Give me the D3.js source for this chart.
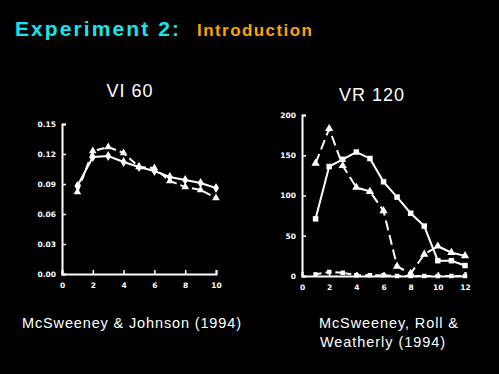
<!DOCTYPE html>
<html>
<head>
<meta charset="utf-8">
<script src="https://cdn.jsdelivr.net/npm/d3@7"></script>
<style>
  body { margin: 0; background: #000; }
  svg { display: block; }
</style>
</head>
<body>
<svg id="slide"></svg>
<script>
// VI 60 panel (left)
let viX = [1, 2, 3, 4, 5, 6, 7, 8, 9, 10];
let viSolid = [0.088, 0.117, 0.118, 0.112, 0.107, 0.103, 0.097, 0.094, 0.091, 0.086];
let viDashed = [0.082, 0.123, 0.127, 0.121, 0.107, 0.106, 0.093, 0.087, 0.084, 0.076];
let viYTicks = [0, 0.03, 0.06, 0.09, 0.12, 0.15];
let viXTicks = [0, 2, 4, 6, 8, 10];

// VR 120 panel (right)
let vrX = [1, 2, 3, 4, 5, 6, 7, 8, 9, 10, 11, 12];
let vrSolid = [71, 136, 145, 154, 146, 117, 98, 78, 62, 19, 19, 13];
let vrDashed = [140, 183, 137, 110, 105, 81, 12, 3, 27, 37, 29, 25];
let vrLow = [2, 5, 4, 1, 1, 1, 0, 0, 0, 0, 0, 0];
let vrYTicks = [0, 50, 100, 150, 200];
let vrXTicks = [0, 2, 4, 6, 8, 10, 12];

let width = 499;
let height = 374;

let svg = d3.select("#slide")
    .attr("width", width)
    .attr("height", height);

svg.append("rect")
    .attr("width", width)
    .attr("height", height)
    .attr("fill", "#000");

// heading
svg.append("text")
    .attr("x", 15).attr("y", 36)
    .attr("font-family", "Liberation Sans, Arial, sans-serif")
    .attr("font-size", 21)
    .attr("font-weight", "bold")
    .attr("fill", "#14e6ee")
    .attr("textLength", 164)
    .attr("lengthAdjust", "spacing")
    .text("Experiment 2:");

svg.append("text")
    .attr("x", 197).attr("y", 36)
    .attr("font-family", "Liberation Sans, Arial, sans-serif")
    .attr("font-size", 17)
    .attr("font-weight", "bold")
    .attr("fill", "#ffa500")
    .attr("textLength", 115)
    .attr("lengthAdjust", "spacing")
    .text("Introduction");

// draws one panel
function panel(opt) {
    let x = d3.scaleLinear().domain(opt.xDomain).range(opt.xRange);
    let y = d3.scaleLinear().domain(opt.yDomain).range(opt.yRange);
    let g = svg.append("g");

    // panel title
    g.append("text")
        .attr("x", opt.titleX).attr("y", opt.titleY)
        .attr("text-anchor", "middle")
        .attr("font-family", "Liberation Sans, Arial, sans-serif")
        .attr("font-size", 18)
        .attr("fill", "#fff")
        .attr("letter-spacing", 1)
        .text(opt.title);

    // axes (ticks pointing inward)
    let yAxis = g.append("g")
        .attr("transform", "translate(" + opt.xRange[0] + ",0)")
        .call(d3.axisRight(y).tickValues(opt.yTicks).tickSize(4).tickFormat(opt.yFormat));
    yAxis.selectAll("text")
        .attr("x", -6)
        .attr("text-anchor", "end");

    let xAxis = g.append("g")
        .attr("transform", "translate(0," + opt.yRange[0] + ")")
        .call(d3.axisTop(x).tickValues(opt.xTicks).tickSize(4).tickFormat(d3.format("d")));
    xAxis.selectAll("text")
        .attr("y", 11)
        .attr("dy", "0.35em");

    g.selectAll(".domain")
        .attr("stroke", "#fff")
        .attr("stroke-width", 2);
    g.selectAll(".tick line")
        .attr("stroke", "#fff")
        .attr("stroke-width", 1.5);
    g.selectAll(".tick text")
        .attr("fill", "#fff")
        .attr("font-family", "DejaVu Sans, sans-serif")
        .attr("font-weight", "bold")
        .attr("font-size", 7.5);

    let line = d3.line()
        .x(d => x(d[0]))
        .y(d => y(d[1]));

    opt.series.forEach(s => {
        let pts = opt.xs.map((v, i) => [v, s.values[i]]);
        g.append("path")
            .datum(pts)
            .attr("fill", "none")
            .attr("stroke", "#fff")
            .attr("stroke-width", 2)
            .attr("stroke-dasharray", s.dash)
            .attr("d", line);

        g.selectAll(null)
            .data(pts)
            .enter().append("path")
                .attr("transform", d => "translate(" + x(d[0]) + "," + y(d[1]) + ")")
                .attr("d", d3.symbol().type(s.symbol).size(s.size))
                .attr("fill", "#fff");
    });
}

panel({
    title: "VI 60", titleX: 130, titleY: 97,
    xDomain: [0, 10], xRange: [62, 216],
    yDomain: [0, 0.15], yRange: [274, 124],
    xTicks: viXTicks, yTicks: viYTicks,
    yFormat: d3.format(".2f"),
    xs: viX,
    series: [
        { values: viSolid, dash: null, symbol: d3.symbolDiamond, size: 30 },
        { values: viDashed, dash: "8,4", symbol: d3.symbolTriangle, size: 25 }
    ]
});

panel({
    title: "VR 120", titleX: 372, titleY: 101,
    xDomain: [0, 12], xRange: [302, 465],
    yDomain: [0, 200], yRange: [276, 115],
    xTicks: vrXTicks, yTicks: vrYTicks,
    yFormat: d3.format("d"),
    xs: vrX,
    series: [
        { values: vrSolid, dash: null, symbol: d3.symbolSquare, size: 30 },
        { values: vrDashed, dash: "10,5", symbol: d3.symbolTriangle, size: 30 },
        { values: vrLow, dash: "6,4", symbol: d3.symbolSquare, size: 20 }
    ]
});

// source notes
let notes = [
    { x: 22, y: 328, text: "McSweeney & Johnson (1994)", len: 219 },
    { x: 319, y: 328, text: "McSweeney, Roll &", len: 139 },
    { x: 320, y: 347, text: "Weatherly (1994)", len: 125 }
];
svg.selectAll(".note")
    .data(notes)
    .enter().append("text")
        .attr("class", "note")
        .attr("x", d => d.x).attr("y", d => d.y)
        .attr("font-family", "Liberation Sans, Arial, sans-serif")
        .attr("font-size", 14.5)
        .attr("fill", "#fff")
        .attr("textLength", d => d.len)
        .attr("lengthAdjust", "spacing")
        .text(d => d.text);
</script>
</body>
</html>
